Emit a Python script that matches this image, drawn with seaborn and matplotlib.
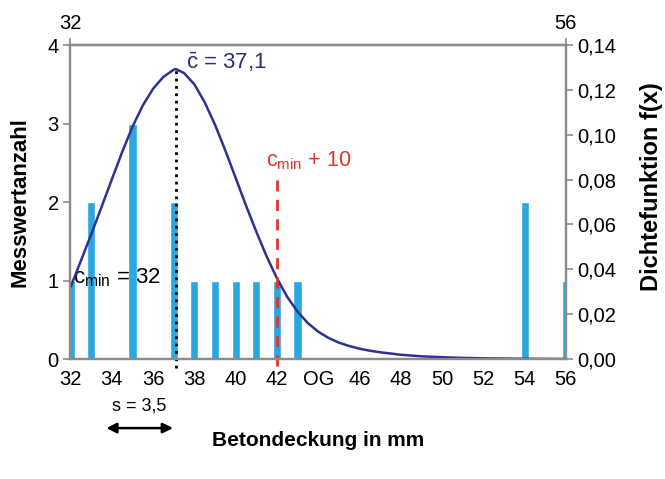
import numpy as np
import pandas as pd
import matplotlib
matplotlib.use("Agg")
import matplotlib.pyplot as plt
import seaborn as sns

# measured values (histogram)
mm_values = [32, 33, 35, 37, 38, 39, 40, 41, 42, 43, 54, 56]
counts = [1, 2, 3, 2, 1, 1, 1, 1, 1, 1, 2, 1]

# density curve
dens_x = [32, 32.5, 33, 33.5, 34, 34.5, 35, 35.5, 36, 36.5, 37, 37.1, 37.5, 38, 38.5,
          39, 39.5, 40, 40.5, 41, 41.5, 42, 42.5, 43, 43.5, 44, 44.5, 45, 45.5, 46,
          46.5, 47, 48, 49, 50, 51, 52, 53, 54, 55, 56]
dens_f = [0.0320, 0.0437, 0.0555, 0.0677, 0.0800, 0.0922, 0.1035, 0.1130, 0.1205,
          0.1258, 0.1290, 0.1293, 0.1275, 0.1225, 0.1145, 0.1045, 0.0930, 0.0808,
          0.0685, 0.0568, 0.0458, 0.0360, 0.0277, 0.0211, 0.0160, 0.0122, 0.0094,
          0.0073, 0.0058, 0.0046, 0.0037, 0.0030, 0.0019, 0.0012, 0.0008, 0.0005,
          0.0003, 0.0002, 0.0001, 0.00005, 0.0]

c_min = 32
c_mean = 37.1
s_val = 3.5

xticks = list(range(32, 57))
xtick_labels = ["OG" if v == 44 else (str(v) if v % 2 == 0 else "") for v in xticks]
yticks_left = [0, 1, 2, 3, 4]
yticks_right = [0.00, 0.02, 0.04, 0.06, 0.08, 0.10, 0.12, 0.14]

sns.set_theme(style="white")
plt.rcParams['font.family'] = ['Liberation Sans', 'DejaVu Sans']
plt.rcParams['mathtext.fontset'] = 'custom'
plt.rcParams['mathtext.rm'] = 'Liberation Sans'
plt.rcParams['mathtext.it'] = 'Liberation Sans:italic'
plt.rcParams['mathtext.bf'] = 'Liberation Sans:bold'
plt.rcParams['text.color'] = 'black'
plt.rcParams['axes.labelcolor'] = 'black'

bar_col = '#2aa7df'
line_col = '#2e3192'
red = '#e3342b'
grey = '#8c8c8c'
tick_fs = 14.5

fig = plt.figure(figsize=(6.65, 4.79), dpi=100)
ax = fig.add_axes([0.106, 0.2505, 0.745, 0.6555])

df = pd.DataFrame({'mm': mm_values, 'n': counts})
sns.barplot(data=df, x='mm', y='n', native_scale=True, width=0.4, color=bar_col,
            saturation=1, errorbar=None, ax=ax)
ax.set_xlim(32, 56)
ax.set_ylim(0, 4)
ax.set_xticks(xticks)
ax.set_xticklabels(xtick_labels, fontsize=tick_fs)
ax.set_yticks(yticks_left)
ax.set_yticklabels([str(v) for v in yticks_left], fontsize=tick_fs)
ax.set_xlabel('Betondeckung in mm', fontsize=15, fontweight='bold', labelpad=30)
ax.set_ylabel('Messwertanzahl', fontsize=16, fontweight='bold', labelpad=12)

ax2 = ax.twinx()
sns.lineplot(x=dens_x, y=dens_f, color=line_col, lw=1.8, ax=ax2)
ax2.set_ylim(0, 0.14)
ax2.set_yticks(yticks_right)
ax2.set_yticklabels([f"{v:.2f}".replace('.', ',') for v in yticks_right], fontsize=tick_fs)
ax2.set_ylabel('Dichtefunktion f(x)', fontsize=17, fontweight='bold')
ax2.yaxis.set_label_coords(1.15, 0.55)

top = ax.secondary_xaxis('top')
top.set_xticks([32, 56])
top.set_xticklabels(['32', '56'], fontsize=tick_fs)

for a in (ax, ax2, top):
    for sp in a.spines.values():
        sp.set_color(grey)
        sp.set_linewidth(1.6)
    a.tick_params(colors=grey, labelcolor='black', width=1.2, length=5, direction='out')
ax.tick_params(axis='x', pad=3)

# mean line and c_min + 10 line
peak = max(dens_f)
ax2.plot([c_mean, c_mean], [-0.004, peak], color='black', ls=':', lw=2, clip_on=False)
ax2.plot([c_min + 10, c_min + 10], [-0.003, 0.0805], color=red, ls=(0, (4, 3)), lw=2,
         clip_on=False)

ax.text(37.6, 3.78, r'$\bar{\mathrm{c}}$ = 37,1', color='#2b2f6e', fontsize=16,
        va='center', ha='left', zorder=10)
ax.text(41.45, 2.53, r'c$_{\mathrm{min}}$ + 10', color=red, fontsize=15.5,
        va='center', ha='left')
ax.text(32.1, 1.04, r'c$_{\mathrm{min}}$ = 32', color='black', fontsize=16,
        va='center', ha='left')

ax.annotate('', xy=(c_mean, -0.22), xytext=(c_mean - s_val, -0.22),
            xycoords=('data', 'axes fraction'), textcoords=('data', 'axes fraction'),
            arrowprops=dict(arrowstyle='<|-|>', color='black', lw=1.8, mutation_scale=15),
            annotation_clip=False)
ax.text(c_mean - s_val / 2, -0.15, 's = 3,5', transform=ax.get_xaxis_transform(),
        fontsize=13, ha='center', va='center')

fig.savefig('out.png', dpi=100)
